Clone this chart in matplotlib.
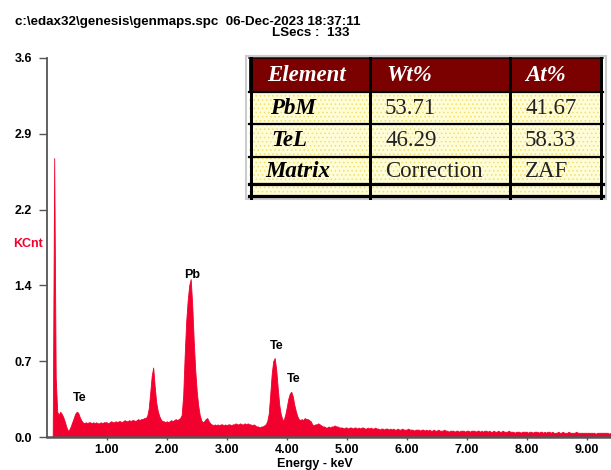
import numpy as np
import matplotlib
matplotlib.use("Agg")
import matplotlib.pyplot as plt
from matplotlib.patches import Rectangle

# ---------------- data ----------------
channel_kev = 0.025
counts_kcnt = [
    # 0.000 - 0.475
    0.00, 0.00, 0.00, 0.00, 0.00, 2.65, 0.57, 0.24, 0.21, 0.24, 0.22, 0.19, 0.15, 0.10, 0.06, 0.07, 0.10, 0.14, 0.18, 0.22,
    # 0.500 - 0.975
    0.24, 0.23, 0.19, 0.16, 0.14, 0.13, 0.14, 0.13, 0.14, 0.14, 0.13, 0.14, 0.13, 0.14, 0.13, 0.13, 0.14, 0.13, 0.14, 0.14,
    # 1.000 - 1.475
    0.14, 0.13, 0.14, 0.15, 0.14, 0.14, 0.15, 0.14, 0.15, 0.15, 0.14, 0.15, 0.16, 0.15, 0.15, 0.16, 0.15, 0.16, 0.16, 0.15,
    # 1.500 - 1.975
    0.16, 0.17, 0.16, 0.17, 0.17, 0.18, 0.18, 0.20, 0.27, 0.42, 0.58, 0.66, 0.48, 0.33, 0.25, 0.20, 0.17, 0.15, 0.15, 0.14,
    # 2.000 - 2.475
    0.15, 0.14, 0.15, 0.16, 0.15, 0.16, 0.17, 0.16, 0.17, 0.18, 0.21, 0.40, 0.78, 1.10, 1.30, 1.44, 1.50, 1.26, 0.92, 0.64,
    # 2.500 - 2.975
    0.44, 0.30, 0.21, 0.16, 0.14, 0.15, 0.17, 0.18, 0.15, 0.13, 0.12, 0.11, 0.12, 0.11, 0.12, 0.11, 0.12, 0.12, 0.11, 0.12,
    # 3.000 - 3.475
    0.11, 0.12, 0.12, 0.11, 0.12, 0.12, 0.13, 0.12, 0.12, 0.13, 0.12, 0.12, 0.13, 0.12, 0.13, 0.12, 0.12, 0.11, 0.12, 0.11,
    # 3.500 - 3.975
    0.10, 0.10, 0.09, 0.10, 0.10, 0.11, 0.12, 0.15, 0.22, 0.40, 0.60, 0.72, 0.75, 0.64, 0.47, 0.31, 0.22, 0.17, 0.16, 0.21,
    # 4.000 - 4.475
    0.28, 0.36, 0.41, 0.43, 0.39, 0.31, 0.25, 0.20, 0.17, 0.16, 0.17, 0.16, 0.18, 0.17, 0.17, 0.16, 0.15, 0.12, 0.11, 0.12,
    # 4.500 - 4.975
    0.12, 0.13, 0.12, 0.11, 0.10, 0.10, 0.09, 0.09, 0.10, 0.09, 0.10, 0.10, 0.11, 0.10, 0.10, 0.09, 0.09, 0.09, 0.08, 0.09,
    # 5.000 - 5.475
    0.09, 0.08, 0.09, 0.09, 0.08, 0.09, 0.09, 0.08, 0.09, 0.08, 0.09, 0.09, 0.08, 0.08, 0.09, 0.08, 0.09, 0.08, 0.08, 0.09,
    # 5.500 - 5.975
    0.08, 0.08, 0.07, 0.08, 0.08, 0.07, 0.08, 0.08, 0.07, 0.08, 0.07, 0.08, 0.07, 0.07, 0.08, 0.07, 0.07, 0.08, 0.07, 0.07,
    # 6.000 - 6.475
    0.07, 0.08, 0.07, 0.07, 0.07, 0.06, 0.07, 0.07, 0.07, 0.06, 0.07, 0.07, 0.06, 0.07, 0.06, 0.07, 0.06, 0.06, 0.07, 0.06,
    # 6.500 - 6.975
    0.06, 0.07, 0.06, 0.06, 0.06, 0.07, 0.06, 0.06, 0.05, 0.06, 0.06, 0.06, 0.05, 0.06, 0.06, 0.05, 0.06, 0.06, 0.06, 0.05,
    # 7.000 - 7.475
    0.06, 0.06, 0.05, 0.06, 0.06, 0.06, 0.05, 0.06, 0.06, 0.05, 0.06, 0.05, 0.06, 0.06, 0.05, 0.06, 0.05, 0.05, 0.06, 0.05,
    # 7.500 - 7.975
    0.05, 0.06, 0.05, 0.05, 0.06, 0.05, 0.05, 0.05, 0.06, 0.05, 0.05, 0.05, 0.04, 0.05, 0.05, 0.05, 0.04, 0.05, 0.05, 0.05,
    # 8.000 - 8.475
    0.05, 0.04, 0.05, 0.05, 0.04, 0.05, 0.05, 0.05, 0.04, 0.05, 0.05, 0.04, 0.05, 0.04, 0.05, 0.05, 0.04, 0.05, 0.04, 0.04,
    # 8.500 - 8.975
    0.04, 0.05, 0.04, 0.04, 0.05, 0.04, 0.04, 0.04, 0.05, 0.04, 0.04, 0.04, 0.04, 0.05, 0.04, 0.04, 0.04, 0.04, 0.04, 0.04,
    # 9.000 - 9.475
    0.04, 0.04, 0.04, 0.04, 0.04, 0.04, 0.03, 0.04, 0.04, 0.04, 0.04, 0.04, 0.04, 0.04, 0.04, 0.03, 0.04, 0.04, 0.04, 0.04,
]
energy_kev = np.arange(len(counts_kcnt)) * channel_kev

y_ticks = [0.0, 0.72, 1.44, 2.16, 2.88, 3.6]
x_ticks = [1, 2, 3, 4, 5, 6, 7, 8, 9]

peak_names = ["Te", "Pb", "Te", "Te"]
peak_kev = [0.555, 2.417, 3.833, 4.122]
peak_label_kcnt = [0.367, 1.538, 0.864, 0.548]

title_line1 = r"c:\edax32\genesis\genmaps.spc  06-Dec-2023 18:37:11"
title_line2 = "LSecs :  133"

table_header = ["Element", "Wt%", "At%"]
table_elements = ["PbM", "TeL", "Matrix"]
table_wt = ["53.71", "46.29", "Correction"]
table_at = ["41.67", "58.33", "ZAF"]

# ---------------- style ----------------
plt.rcParams['font.family'] = ['Liberation Sans', 'DejaVu Sans']
RED = '#f2002e'
AXC = '#555555'
W, H = 611, 470

fig = plt.figure(figsize=(W / 100, H / 100), dpi=100)
x0, xb, yt = 46.7, 437.0, 58.0
ax = fig.add_axes([x0 / W, (H - xb) / H, 1 - x0 / W, (xb - yt) / H])

ax.fill_between(energy_kev, counts_kcnt, color=RED, linewidth=0.6, edgecolor=RED)
ax.set_xlim(0, (W - x0) / 60.0)
ax.set_ylim(0, 3.6)

for s in ['top', 'right']:
    ax.spines[s].set_visible(False)
ax.spines['left'].set_color(AXC)
ax.spines['left'].set_linewidth(1.3)
ax.spines['bottom'].set_color(AXC)
ax.spines['bottom'].set_linewidth(1.8)

ax.set_yticks(y_ticks)
ax.set_yticklabels([f"{v:.1f}" for v in y_ticks], fontweight='bold', fontsize=9)
ax.set_xticks(x_ticks)
ax.set_xticklabels([f"{v:.2f}" for v in x_ticks], fontweight='bold', fontsize=9)
ax.tick_params(axis='y', direction='out', length=6, width=1.0, color=AXC, pad=4.5)
ax.tick_params(axis='x', direction='out', length=2.5, width=1.0, color=AXC, pad=2.5)

for name, e, yv in zip(peak_names, peak_kev, peak_label_kcnt):
    ax.text(e, yv, name, ha='center', va='center', fontsize=9, fontweight='bold', color='black')

fig.text(15 / W, 1 - 21.7 / H, title_line1, ha='left', va='center', fontsize=9.6, fontweight='bold')
fig.text(271.7 / W, 1 - 33.3 / H, title_line2, ha='left', va='center', fontsize=9.6, fontweight='bold')
fig.text(13.3 / W, 1 - 244 / H, "KCnt", ha='left', va='center', fontsize=9, fontweight='bold', color=RED)
fig.text(315 / W, 1 - 469.5 / H, "Energy - keV", ha='center', va='bottom', fontsize=9, fontweight='bold')

# ---------------- table overlay (pixel coordinates) ----------------
tab = fig.add_axes([0, 0, 1, 1], zorder=5)
tab.set_xlim(0, W)
tab.set_ylim(H, 0)
tab.axis('off')

L, R = 249.3, 602.7
T, HB = 58.3, 92.3
row_lines = [124.0, 157.3]
thick1, thick2 = 183.5, 196.0
col_lines = [370.0, 510.0]
px = 0.72

tab.add_patch(Rectangle((L - 3, T - 2), R - L + 6, thick2 - T + 5, fill=False, ec='#cccccc', lw=1.5))
tab.add_patch(Rectangle((L, T), R - L, HB - T, fc='#7b0000', ec='none'))
tab.add_patch(Rectangle((L, HB), R - L, thick2 - HB, fc='#fffcd8', ec='none'))
plt.rcParams['hatch.linewidth'] = 0.6
tab.add_patch(Rectangle((L, HB), R - L, thick2 - HB, fill=False, hatch='....', ec='#f0e070', lw=0))

tab.plot([L, R], [T, T], color='black', lw=1.5 * px)
for yy in [HB] + row_lines:
    tab.plot([L, R], [yy, yy], color='black', lw=2.2 * px)
for yy in [thick1, thick2]:
    tab.plot([L, R], [yy, yy], color='black', lw=3.2 * px)
for xx in [L + 1.5] + col_lines + [R - 1.5]:
    tab.plot([xx, xx], [T, thick2 + 1.5], color='black', lw=3 * px)

fs = 16.5
serif = ['Liberation Serif', 'DejaVu Serif']
hdr_x = [266.7, 386.7, 525.0]
for xx, s in zip(hdr_x, table_header):
    tab.text(xx, 75.3, s, ha='left', va='center', fontsize=fs, family=serif,
             style='italic', fontweight='bold', color='white')

row_y = [108.0, 141.0, 171.7]
el_x = [270.0, 271.7, 265.0]
for yy, ex, el, wt, at in zip(row_y, el_x, table_elements, table_wt, table_at):
    tab.text(ex, yy, el, ha='left', va='center', fontsize=fs, family=serif,
             style='italic', fontweight='bold', color='black')
    tab.text(385.0, yy, wt, ha='left', va='center', fontsize=fs, family=serif, color='#222222')
    tab.text(525.0, yy, at, ha='left', va='center', fontsize=fs, family=serif, color='#222222')

fig.savefig('out.png', dpi=100)
